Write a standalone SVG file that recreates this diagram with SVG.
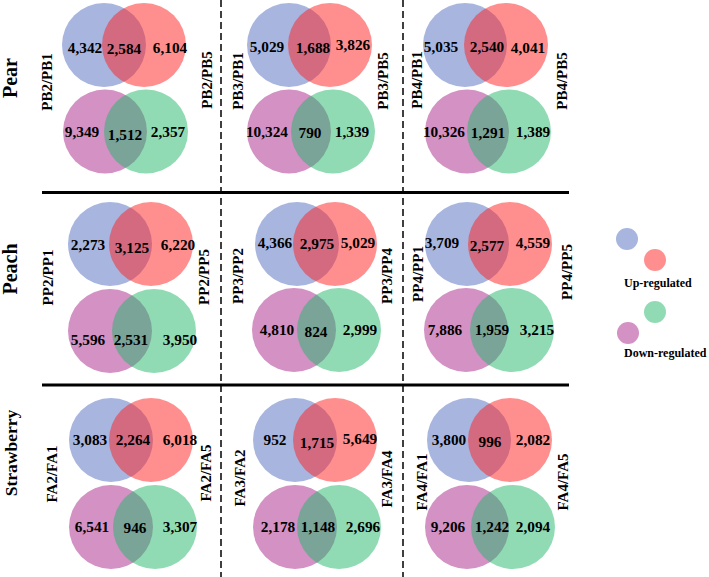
<svg xmlns="http://www.w3.org/2000/svg" width="709" height="577" viewBox="0 0 709 577">
<style>
.b{fill:#4f6bbf;fill-opacity:.5}
.r{fill:#ff2020;fill-opacity:.5}
.p{fill:#a8248a;fill-opacity:.5}
.g{fill:#22b86a;fill-opacity:.5}
.n{font-size:15.3px;text-anchor:middle}
.l{font-size:15px;text-anchor:middle}
.s{font-size:20px;text-anchor:middle}
.lg{font-size:12px}
.dash{stroke:#000;stroke-width:1.5;stroke-dasharray:7 4;fill:none}
.solid{stroke:#000;stroke-width:3;fill:none}
</style>
<rect width="709" height="577" fill="#fff"/>
<g id="connectors">
<line class="dash" x1="221" y1="0" x2="221" y2="577"/>
<line class="dash" x1="403" y1="0" x2="403" y2="577"/>
<line class="solid" x1="42" y1="192.5" x2="569" y2="192.5"/>
<line class="solid" x1="42" y1="385" x2="569" y2="385"/>
</g>
<g font-family="Liberation Serif, serif" font-weight="bold" fill="#000">
<g id="row-labels">
<text class="s" transform="translate(17,78) rotate(-90)">Pear</text>
<text class="s" transform="translate(17,269) rotate(-90)">Peach</text>
<text class="s" style="font-size:17.5px" transform="translate(17,453) rotate(-90)">Strawberry</text>
</g>
<g id="pear-1">
<circle class="b" cx="104" cy="45" r="42"/><circle class="r" cx="144" cy="45" r="42"/>
<circle class="p" cx="105" cy="131.5" r="42"/><circle class="g" cx="146" cy="131.5" r="42"/>
<text class="n" x="85" y="53">4,342</text><text class="n" x="124" y="54">2,584</text><text class="n" x="170" y="53">6,104</text>
<text class="n" x="82" y="137">9,349</text><text class="n" x="125" y="140">1,512</text><text class="n" x="168" y="137">2,357</text>
<text class="l" transform="translate(52,82) rotate(-90)">PB2/PB1</text>
<text class="l" transform="translate(212,80) rotate(-90)">PB2/PB5</text>
</g>
<g id="pear-2">
<circle class="b" cx="289" cy="45" r="42"/><circle class="r" cx="330" cy="45" r="42"/>
<circle class="p" cx="289" cy="131.5" r="42"/><circle class="g" cx="333" cy="131.5" r="42"/>
<text class="n" x="267" y="52">5,029</text><text class="n" x="313" y="53">1,688</text><text class="n" x="353" y="50">3,826</text>
<text class="n" x="267" y="137">10,324</text><text class="n" x="310" y="138">790</text><text class="n" x="352" y="137">1,339</text>
<text class="l" transform="translate(243,81) rotate(-90)">PB3/PB1</text>
<text class="l" transform="translate(388,81) rotate(-90)">PB3/PB5</text>
</g>
<g id="pear-3">
<circle class="b" cx="465" cy="45" r="42"/><circle class="r" cx="506" cy="45" r="42"/>
<circle class="p" cx="467" cy="131.5" r="42"/><circle class="g" cx="509" cy="131.5" r="42"/>
<text class="n" x="441" y="52">5,035</text><text class="n" x="487" y="52">2,540</text><text class="n" x="528" y="53">4,041</text>
<text class="n" x="444" y="137">10,326</text><text class="n" x="488" y="138">1,291</text><text class="n" x="533" y="137">1,389</text>
<text class="l" transform="translate(422,80) rotate(-90)">PB4/PB1</text>
<text class="l" transform="translate(567,81) rotate(-90)">PB4/PB5</text>
</g>
<g id="peach-1">
<circle class="b" cx="110" cy="244" r="42"/><circle class="r" cx="151" cy="244" r="42"/>
<circle class="p" cx="110" cy="331" r="42"/><circle class="g" cx="154" cy="331" r="42"/>
<text class="n" x="88" y="250">2,273</text><text class="n" x="132" y="253">3,125</text><text class="n" x="178" y="250">6,220</text>
<text class="n" x="88" y="345">5,596</text><text class="n" x="131" y="345">2,531</text><text class="n" x="180" y="345">3,950</text>
<text class="l" transform="translate(53,277.5) rotate(-90)">PP2/PP1</text>
<text class="l" transform="translate(209,277) rotate(-90)">PP2/PP5</text>
</g>
<g id="peach-2">
<circle class="b" cx="297" cy="244" r="42"/><circle class="r" cx="335" cy="244" r="42"/>
<circle class="p" cx="294" cy="330" r="42"/><circle class="g" cx="339" cy="330" r="42"/>
<text class="n" x="275" y="248">4,366</text><text class="n" x="317" y="249">2,975</text><text class="n" x="358" y="248">5,029</text>
<text class="n" x="277" y="335">4,810</text><text class="n" x="316" y="337">824</text><text class="n" x="360" y="335">2,999</text>
<text class="l" transform="translate(243,276) rotate(-90)">PP3/PP2</text>
<text class="l" transform="translate(392,276) rotate(-90)">PP3/PP4</text>
</g>
<g id="peach-3">
<circle class="b" cx="467" cy="244" r="42"/><circle class="r" cx="510" cy="244" r="42"/>
<circle class="p" cx="466" cy="330" r="42"/><circle class="g" cx="512" cy="330" r="42"/>
<text class="n" x="442" y="248">3,709</text><text class="n" x="487" y="251">2,577</text><text class="n" x="533" y="248">4,559</text>
<text class="n" x="445" y="335">7,886</text><text class="n" x="492" y="335">1,959</text><text class="n" x="537" y="335">3,215</text>
<text class="l" transform="translate(423,274) rotate(-90)">PP4/PP1</text>
<text class="l" transform="translate(572,272) rotate(-90)">PP4/PP5</text>
</g>
<g id="strawberry-1">
<circle class="b" cx="111" cy="440" r="42"/><circle class="r" cx="151" cy="440" r="42"/>
<circle class="p" cx="111" cy="527" r="42"/><circle class="g" cx="155" cy="527" r="42"/>
<text class="n" x="90" y="445">3,083</text><text class="n" x="133" y="445">2,264</text><text class="n" x="180" y="445">6,018</text>
<text class="n" x="92" y="532">6,541</text><text class="n" x="135" y="533">946</text><text class="n" x="180" y="532">3,307</text>
<text class="l" transform="translate(57,474) rotate(-90)">FA2/FA1</text>
<text class="l" transform="translate(211,473) rotate(-90)">FA2/FA5</text>
</g>
<g id="strawberry-2">
<circle class="b" cx="295" cy="440" r="42"/><circle class="r" cx="335" cy="440" r="42"/>
<circle class="p" cx="295" cy="527" r="42"/><circle class="g" cx="339" cy="527" r="42"/>
<text class="n" x="275" y="445">952</text><text class="n" x="317" y="448">1,715</text><text class="n" x="360" y="444">5,649</text>
<text class="n" x="278" y="532">2,178</text><text class="n" x="318" y="532">1,148</text><text class="n" x="363" y="532">2,696</text>
<text class="l" transform="translate(245,478) rotate(-90)">FA3/FA2</text>
<text class="l" transform="translate(392,479) rotate(-90)">FA3/FA4</text>
</g>
<g id="strawberry-3">
<circle class="b" cx="469" cy="440" r="42"/><circle class="r" cx="510" cy="440" r="42"/>
<circle class="p" cx="467" cy="527" r="42"/><circle class="g" cx="513" cy="527" r="42"/>
<text class="n" x="449" y="445">3,800</text><text class="n" x="490" y="447">996</text><text class="n" x="533" y="445">2,082</text>
<text class="n" x="448" y="532">9,206</text><text class="n" x="492" y="532">1,242</text><text class="n" x="533" y="532">2,094</text>
<text class="l" transform="translate(427,482) rotate(-90)">FA4/FA1</text>
<text class="l" transform="translate(568,482) rotate(-90)">FA4/FA5</text>
</g>
<g id="legend">
<circle class="b" cx="627" cy="239" r="11"/>
<circle class="r" cx="655" cy="260" r="11"/>
<text class="lg" x="624" y="287">Up-regulated</text>
<circle class="g" cx="655" cy="312" r="11"/>
<circle class="p" cx="628" cy="333" r="11"/>
<text class="lg" x="624" y="357">Down-regulated</text>
</g>
</g>
</svg>
